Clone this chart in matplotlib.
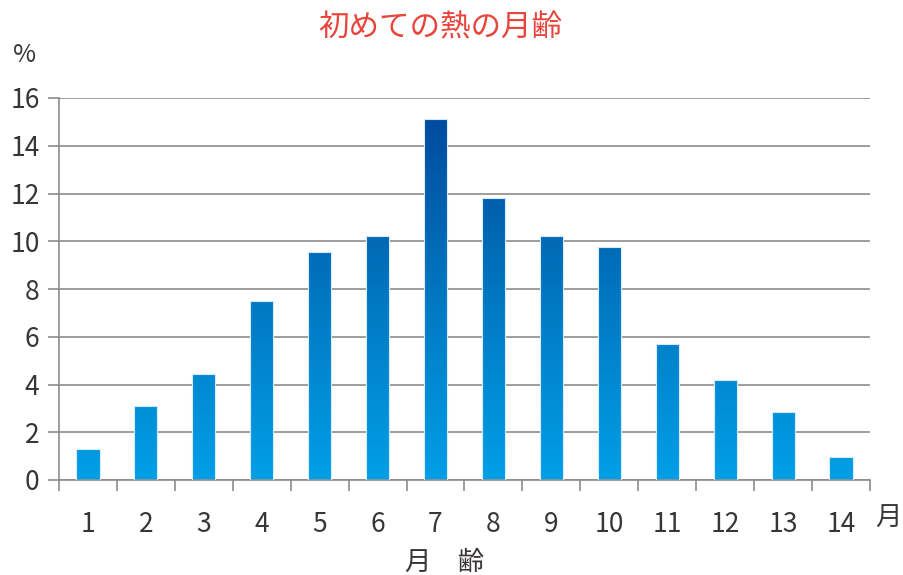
import numpy as np
import matplotlib
matplotlib.use("Agg")
import matplotlib.pyplot as plt
from matplotlib.colors import LinearSegmentedColormap

plt.rcParams['font.family'] = ['Noto Sans CJK JP', 'DejaVu Sans']

# 月齢ごとの初めての発熱の割合 (%)
tsuki = [1, 2, 3, 4, 5, 6, 7, 8, 9, 10, 11, 12, 13, 14]
wariai = [1.3, 3.1, 4.45, 7.5, 9.55, 10.2, 15.1, 11.8, 10.2, 9.75, 5.7, 4.2, 2.85, 0.95]
y_ticks = [0, 2, 4, 6, 8, 10, 12, 14, 16]

titolo = "初めての熱の月齢"
x_nome = "月　齢"

grigio = "#8c8c8c"
testo = "#3a3535"
cmap = LinearSegmentedColormap.from_list("blu", ["#009fe6", "#0075bf", "#00469a"])

fig = plt.figure(figsize=(9.04, 5.75), dpi=100)
ax = fig.add_axes([59 / 904, 1 - 480 / 575, (870 - 59) / 904, (480 - 98) / 575])

barre = ax.bar(tsuki, wariai, width=0.4, color="none", edgecolor="#d6ecfa",
               linewidth=0.8, zorder=3)

# gradiente verticale dentro ogni barra
grad = np.linspace(0, 1, 256).reshape(-1, 1)
for b in barre:
    x0 = b.get_x()
    x1 = x0 + b.get_width()
    im = ax.imshow(grad, extent=[x0, x1, 0, 16], origin="lower", cmap=cmap,
                   aspect="auto", zorder=2.5, vmin=0, vmax=1)
    im.set_clip_path(b)

ax.set_xlim(0.5, 14.5)
ax.set_ylim(0, 16)

ax.set_yticks(y_ticks)
ax.set_yticklabels([str(v) for v in y_ticks], fontsize=19, color=testo)
ax.yaxis.grid(True, color=grigio, linewidth=1.2, zorder=1)
ax.set_axisbelow(True)

ax.set_xticks(np.arange(0.5, 15, 1))
ax.set_xticklabels([])
ax.set_xticks(tsuki, minor=True)
ax.set_xticklabels([str(t) for t in tsuki], minor=True, fontsize=19, color=testo)
ax.tick_params(axis="x", which="major", length=8, width=1.2, color=grigio)
ax.tick_params(axis="x", which="minor", length=0, pad=22)
ax.tick_params(axis="y", length=8, width=1.2, color=grigio, pad=6)

for s in ["top", "right"]:
    ax.spines[s].set_visible(False)
for s in ["left", "bottom"]:
    ax.spines[s].set_color(grigio)
    ax.spines[s].set_linewidth(1.2)

fig.text(440 / 904, 1 - 28 / 575, titolo, color="#e8453c", fontsize=22,
         ha="center", va="center")
fig.text(25 / 904, 1 - 55 / 575, "%", color=testo, fontsize=18, ha="center", va="center")
fig.text(888 / 904, 1 - 518 / 575, "月", color=testo, fontsize=19, ha="center", va="center")
fig.text(445 / 904, 1 - 562 / 575, x_nome, color=testo, fontsize=19, ha="center", va="center")

fig.savefig("out.png", dpi=100)
